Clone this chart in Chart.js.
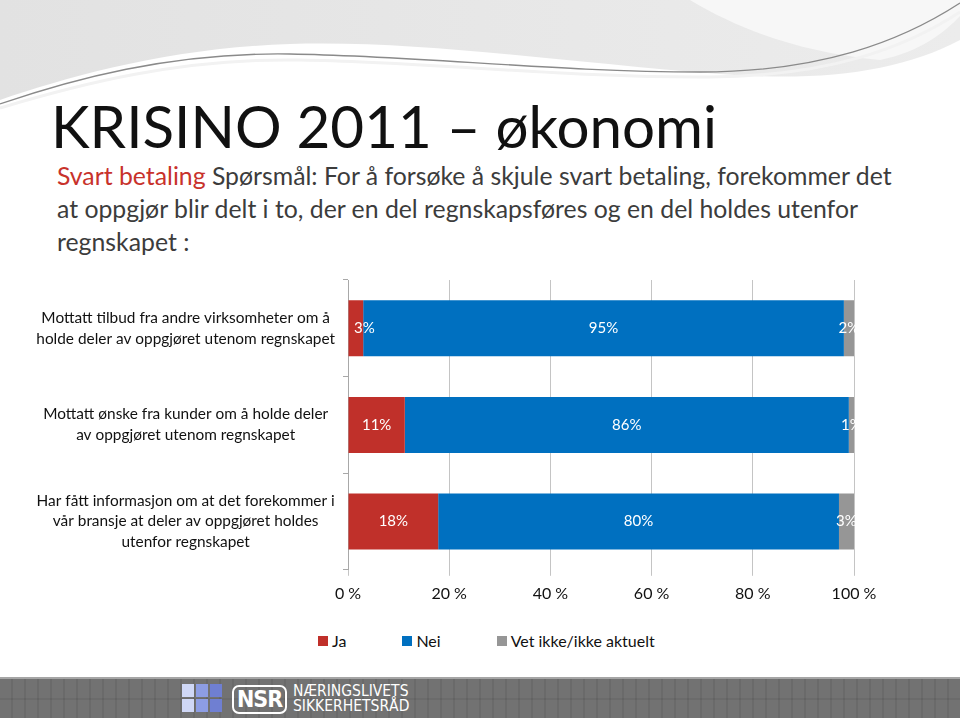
<!DOCTYPE html>
<html>
<head>
<meta charset="utf-8">
<script src="https://cdn.jsdelivr.net/npm/chart.js@4.4.0/dist/chart.umd.min.js"></script>
<style>
  body { margin: 0; width: 960px; height: 720px; position: relative; overflow: hidden; background: #fff; font-family: Lato, "Open Sans", sans-serif; }
  #bg { position: absolute; left: 0; top: 0; }
  #title { position: absolute; left: 51px; top: 90px; font-size: 58.3px; line-height: 70px; color: #111; white-space: nowrap; }
  #sub { position: absolute; left: 57px; top: 159px; font-size: 24.8px; line-height: 33px; color: #3c3c3c; white-space: nowrap; }
  #sub .red { color: #c8322b; }
  #chart { position: absolute; left: 0; top: 240px; }
  #legend { position: absolute; left: 318px; top: 631px; display: flex; gap: 56px; font-size: 16px; line-height: 20px; color: #111; }
  #legend .item { display: flex; align-items: center; }
  #legend .box { width: 10px; height: 10px; margin-right: 4px; }
  #footer { position: absolute; left: 0; top: 677px; width: 960px; height: 39px; background-color: #6a6a6a; border-top: 2px solid #a5a5a5;
    background-image: linear-gradient(90deg, rgba(255,255,255,0.05) 0 11px, transparent 11px 13px), linear-gradient(0deg, transparent 0 18px, rgba(0,0,0,0.07) 18px 20px, transparent 20px);
    background-size: 13px 39px, 13px 39px; }
  .sq { position: absolute; width: 12px; height: 13px; }
  #nsr { position: absolute; left: 232px; top: 6px; width: 51px; height: 25px; border: 2px solid #fff; border-radius: 7px; color: #fff;
    font: bold 23px "Liberation Sans Narrow", "DejaVu Sans Condensed", sans-serif; line-height: 25px; text-align: center; letter-spacing: -1px; }
  #org { position: absolute; left: 293px; top: 5px; color: #fff; font: 15.5px "Liberation Sans Narrow", "DejaVu Sans Condensed", sans-serif; line-height: 15px; }
</style>
</head>
<body>
<svg id="bg" width="960" height="115">
  <defs>
    <linearGradient id="g1" x1="0" x2="1" y1="0" y2="0">
      <stop offset="0" stop-color="#e2e2e2"/>
      <stop offset="1" stop-color="#ececec"/>
    </linearGradient>
  </defs>
  <path d="M0,0 H960 V40 C900,72 820,82 720,74 C560,62 420,40 290,44 C170,48 70,76 0,100 Z" fill="url(#g1)"/>
  <path d="M690,0 C740,30 800,52 880,60 C920,52 945,32 960,16 V0 Z" fill="#f7f7f7"/>
  <path d="M0,104 C70,80 170,52 290,54 C420,56 560,72 700,72 C820,72 900,42 960,3" fill="none" stroke="#8a8a8a" stroke-width="1.3"/>
  <path d="M0,108 C80,84 180,58 300,60 C430,62 570,78 710,77 C830,76 905,48 960,12" fill="none" stroke="#f2f2f2" stroke-width="3"/>
</svg>

<div id="title">KRISINO 2011 – økonomi</div>
<div id="sub"><span class="red">Svart betaling</span> Spørsmål: For å forsøke å skjule svart betaling, forekommer det<br>at oppgjør blir delt i to, der en del regnskapsføres og en del holdes utenfor<br>regnskapet :</div>

<canvas id="chart" width="960" height="379"></canvas>
<div id="legend"></div>

<div id="footer">
  <div class="sq" style="left:182px;top:5px;background:#cfd7f6"></div>
  <div class="sq" style="left:196px;top:5px;background:#8d9de4"></div>
  <div class="sq" style="left:210px;top:5px;background:#6f7fd2"></div>
  <div class="sq" style="left:182px;top:20px;background:#cfd7f6"></div>
  <div class="sq" style="left:196px;top:20px;background:#8d9de4"></div>
  <div class="sq" style="left:210px;top:20px;background:#6f7fd2"></div>
  <div id="nsr">NSR</div>
  <div id="org">NÆRINGSLIVETS<br>SIKKERHETSRÅD</div>
</div>

<script>
// data
let questions = [
  ["Mottatt tilbud fra andre virksomheter om å", "holde deler av oppgjøret utenom regnskapet"],
  ["Mottatt ønske fra kunder om å holde deler", "av oppgjøret utenom regnskapet"],
  ["Har fått informasjon om at det forekommer i", "vår bransje at deler av oppgjøret holdes", "utenfor regnskapet"]
];
let jaValues = [3, 11, 18];
let neiValues = [95, 86, 80];
let vetIkkeValues = [2, 1, 3];
let seriesNames = ["Ja", "Nei", "Vet ikke/ikke aktuelt"];
let seriesColors = ["#c0302a", "#0070c0", "#969696"];
let axisTicks = [0, 20, 40, 60, 80, 100];

let font = "Lato";

// 100% stacked: every bar is scaled to its own total
let totals = jaValues.map((v, i) => v + neiValues[i] + vetIkkeValues[i]);
function share(arr) {
  return arr.map((v, i) => v / totals[i] * 100);
}

let rawSeries = [jaValues, neiValues, vetIkkeValues];
let datasets = rawSeries.map((arr, i) => ({
  label: seriesNames[i],
  data: share(arr),
  raw: arr,
  backgroundColor: seriesColors[i],
  borderWidth: 0,
  barPercentage: 0.58,
  categoryPercentage: 1.0
}));

// white value labels, clipped to the plot like in the original
let barLabels = {
  id: "barLabels",
  afterDatasetsDraw(chart) {
    let c = chart.ctx;
    let area = chart.chartArea;
    c.save();
    c.beginPath();
    c.rect(area.left, area.top, area.right - area.left + 1, area.bottom - area.top);
    c.clip();
    c.font = "15px " + font;
    c.fillStyle = "#fff";
    c.textAlign = "center";
    c.textBaseline = "middle";
    chart.data.datasets.forEach((ds, i) => {
      chart.getDatasetMeta(i).data.forEach((bar, j) => {
        let text = ds.raw[j] + "%";
        let w = c.measureText(text).width;
        let p = bar.getCenterPoint();
        let x = Math.max(p.x, area.left + w / 2 + 6);
        c.fillText(text, x, p.y);
      });
    });
    c.restore();
  }
};

let chart = new Chart(document.getElementById("chart"), {
  type: "bar",
  data: { labels: questions, datasets: datasets },
  options: {
    indexAxis: "y",
    responsive: false,
    animation: false,
    layout: { padding: { left: 10, right: 106, top: 40, bottom: 8 } },
    scales: {
      x: {
        stacked: true,
        min: axisTicks[0],
        max: axisTicks[axisTicks.length - 1],
        afterBuildTicks: s => { s.ticks = axisTicks.map(v => ({ value: v })); },
        ticks: { callback: v => v + " %", color: "#111", font: { family: font, size: 16 }, padding: 8, maxRotation: 0 },
        grid: { color: "#c4c4c4", tickLength: 6 },
        border: { display: false }
      },
      y: {
        stacked: true,
        ticks: { crossAlign: "center", color: "#111", font: { family: font, size: 15.4, lineHeight: 1.36 }, padding: 8 },
        grid: { offset: true, drawOnChartArea: false, tickLength: 5, color: "#a8a8a8" },
        border: { color: "#a8a8a8" },
        afterFit: s => { s.width = 338; }
      }
    },
    plugins: {
      legend: { display: false },
      tooltip: { enabled: false }
    }
  },
  plugins: [barLabels]
});

// legend built from the chart's own datasets
let legend = document.getElementById("legend");
chart.data.datasets.forEach(ds => {
  let item = document.createElement("div");
  item.className = "item";
  let box = document.createElement("span");
  box.className = "box";
  box.style.background = ds.backgroundColor;
  item.appendChild(box);
  item.appendChild(document.createTextNode(ds.label));
  legend.appendChild(item);
});
</script>
</body>
</html>
